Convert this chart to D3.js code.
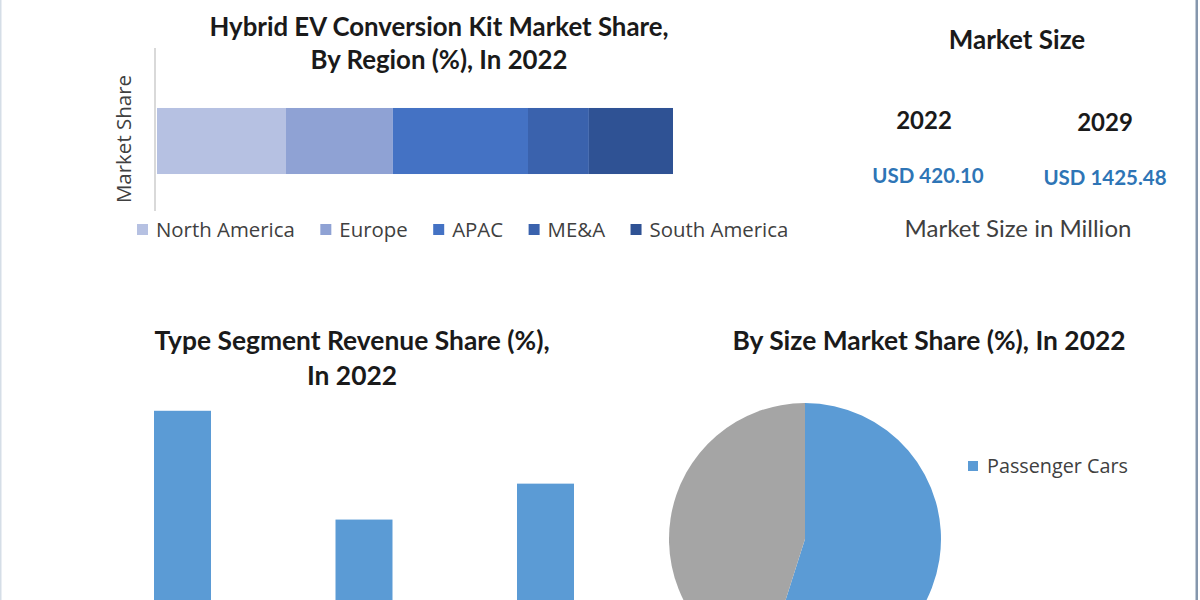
<!DOCTYPE html>
<html>
<head>
<meta charset="utf-8">
<script src="https://cdn.jsdelivr.net/npm/d3@7"></script>
<style>
  html, body { margin: 0; padding: 0; background: #fff; }
  svg { display: block; }
  .title { font-family: Lato, sans-serif; font-weight: 700; fill: #1a1a1a; }
  .label { font-family: "Open Sans", sans-serif; fill: #404040; }
</style>
</head>
<body>
<div id="chart"></div>
<script>
// Region share (stacked bar, top left)
const regions = ["North America", "Europe", "APAC", "ME&A", "South America"];
const regionShare = [25.0, 20.7, 26.2, 11.8, 16.3];
const regionColors = ["#b6c1e2", "#8fa2d4", "#4472c4", "#3a62ad", "#2f5294"];

// Market size (top right)
const sizeYears = ["2022", "2029"];
const sizeValues = ["USD 420.10", "USD 1425.48"];

// Type segment share (bottom left)
const types = ["Type 1", "Type 2", "Type 3"];
const typeShare = [45.3, 23.8, 30.9];

// By size share (bottom right)
const sizes = ["Passenger Cars", "Commercial Vehicles"];
const sizeShare = [54.9, 45.1];
const sizeColors = ["#5b9bd5", "#a5a5a5"];

const W = 1200, H = 600;

const svg = d3.select("#chart").append("svg")
    .attr("width", W)
    .attr("height", H);

// frame lines
svg.append("rect").attr("x", 0).attr("y", 0).attr("width", 1.5).attr("height", H).attr("fill", "#d5dee7");
svg.append("rect").attr("x", 1195.5).attr("y", 0).attr("width", 2.5).attr("height", H).attr("fill", "#8597ad");

// ---------- Region stacked bar ----------
const topTitle = svg.append("text").attr("class", "title")
    .attr("text-anchor", "middle").style("font-size", "25.8px");
topTitle.append("tspan").attr("x", 439).attr("y", 36).text("Hybrid EV Conversion Kit Market Share,");
topTitle.append("tspan").attr("x", 439).attr("y", 69).text("By Region (%), In 2022");

const row = { "Market Share": 1 };
regions.forEach((r, i) => row[r] = regionShare[i]);
const stacked = d3.stack().keys(regions)([row]);

const xRegion = d3.scaleLinear().domain([0, 100]).range([157, 673]);
const yRegion = d3.scaleBand().domain(["Market Share"]).range([48, 234]).padding(0.476);

svg.append("line")
    .attr("x1", 155).attr("x2", 155)
    .attr("y1", 48).attr("y2", 211)
    .attr("stroke", "#d9d9d9").attr("stroke-width", 2);

svg.append("g").selectAll("rect")
    .data(stacked)
    .join("rect")
    .attr("x", d => xRegion(d[0][0]))
    .attr("width", d => xRegion(d[0][1]) - xRegion(d[0][0]))
    .attr("y", yRegion("Market Share"))
    .attr("height", yRegion.bandwidth())
    .attr("fill", (d, i) => regionColors[i]);

svg.append("text").attr("class", "label")
    .attr("transform", "translate(131,139) rotate(-90)")
    .attr("text-anchor", "middle")
    .style("font-size", "20.5px")
    .text("Market Share");

// legend laid out left to right
const legend = svg.append("g").attr("transform", "translate(137,0)");
let lx = 0;
regions.forEach((r, i) => {
    const g = legend.append("g").attr("transform", `translate(${lx},0)`);
    g.append("rect").attr("x", 0).attr("y", 224).attr("width", 11).attr("height", 11).attr("fill", regionColors[i]);
    const t = g.append("text").attr("class", "label")
        .attr("x", 19).attr("y", 237)
        .style("font-size", "20.4px")
        .text(r);
    lx += 19 + t.node().getComputedTextLength() + 25.5;
});

// ---------- Market size ----------
svg.append("text").attr("class", "title")
    .attr("x", 1017).attr("y", 49)
    .attr("text-anchor", "middle").style("font-size", "26px")
    .text("Market Size");

const xSize = d3.scalePoint().domain(sizeYears).range([924, 1105]);
sizeYears.forEach((yr, i) => {
    svg.append("text").attr("class", "title")
        .attr("x", xSize(yr)).attr("y", 129 + i * 2)
        .attr("text-anchor", "middle").style("font-size", "24px")
        .text(yr);
    svg.append("text").attr("class", "title")
        .attr("x", xSize(yr) + (i === 0 ? 4 : 0)).attr("y", 183 + i * 2)
        .attr("text-anchor", "middle").style("font-size", "20.5px")
        .style("fill", "#2e75b6")
        .text(sizeValues[i]);
});

svg.append("text")
    .attr("x", 1018).attr("y", 237)
    .attr("text-anchor", "middle")
    .style("font-family", "Lato, sans-serif").style("font-size", "24px").style("fill", "#404040")
    .text("Market Size in Million");

// ---------- Type segment bars ----------
const midTitle = svg.append("text").attr("class", "title")
    .attr("text-anchor", "middle").style("font-size", "26.4px");
midTitle.append("tspan").attr("x", 352).attr("y", 350).text("Type Segment Revenue Share (%),");
midTitle.append("tspan").attr("x", 352).attr("y", 385).text("In 2022");

const xType = d3.scaleBand().domain(types).range([154, 574]).paddingInner(0.686).paddingOuter(0);
const yType = d3.scaleLinear().domain([0, 50]).range([640, 387]);

svg.append("g").selectAll("rect")
    .data(typeShare)
    .join("rect")
    .attr("x", (d, i) => xType(types[i]))
    .attr("width", xType.bandwidth())
    .attr("y", d => yType(d))
    .attr("height", d => yType(0) - yType(d))
    .attr("fill", "#5b9bd5");

// ---------- By size pie ----------
svg.append("text").attr("class", "title")
    .attr("x", 929).attr("y", 350)
    .attr("text-anchor", "middle").style("font-size", "26.4px")
    .text("By Size Market Share (%), In 2022");

const pie = d3.pie().sort(null)(sizeShare);
const arc = d3.arc().innerRadius(0).outerRadius(136);

svg.append("g").attr("transform", "translate(805,539)")
    .selectAll("path")
    .data(pie)
    .join("path")
    .attr("d", arc)
    .attr("fill", (d, i) => sizeColors[i]);

svg.append("rect").attr("x", 968).attr("y", 461).attr("width", 10).attr("height", 10).attr("fill", sizeColors[0]);
svg.append("text").attr("class", "label")
    .attr("x", 987).attr("y", 473)
    .style("font-size", "19.8px")
    .text(sizes[0]);
</script>
</body>
</html>
